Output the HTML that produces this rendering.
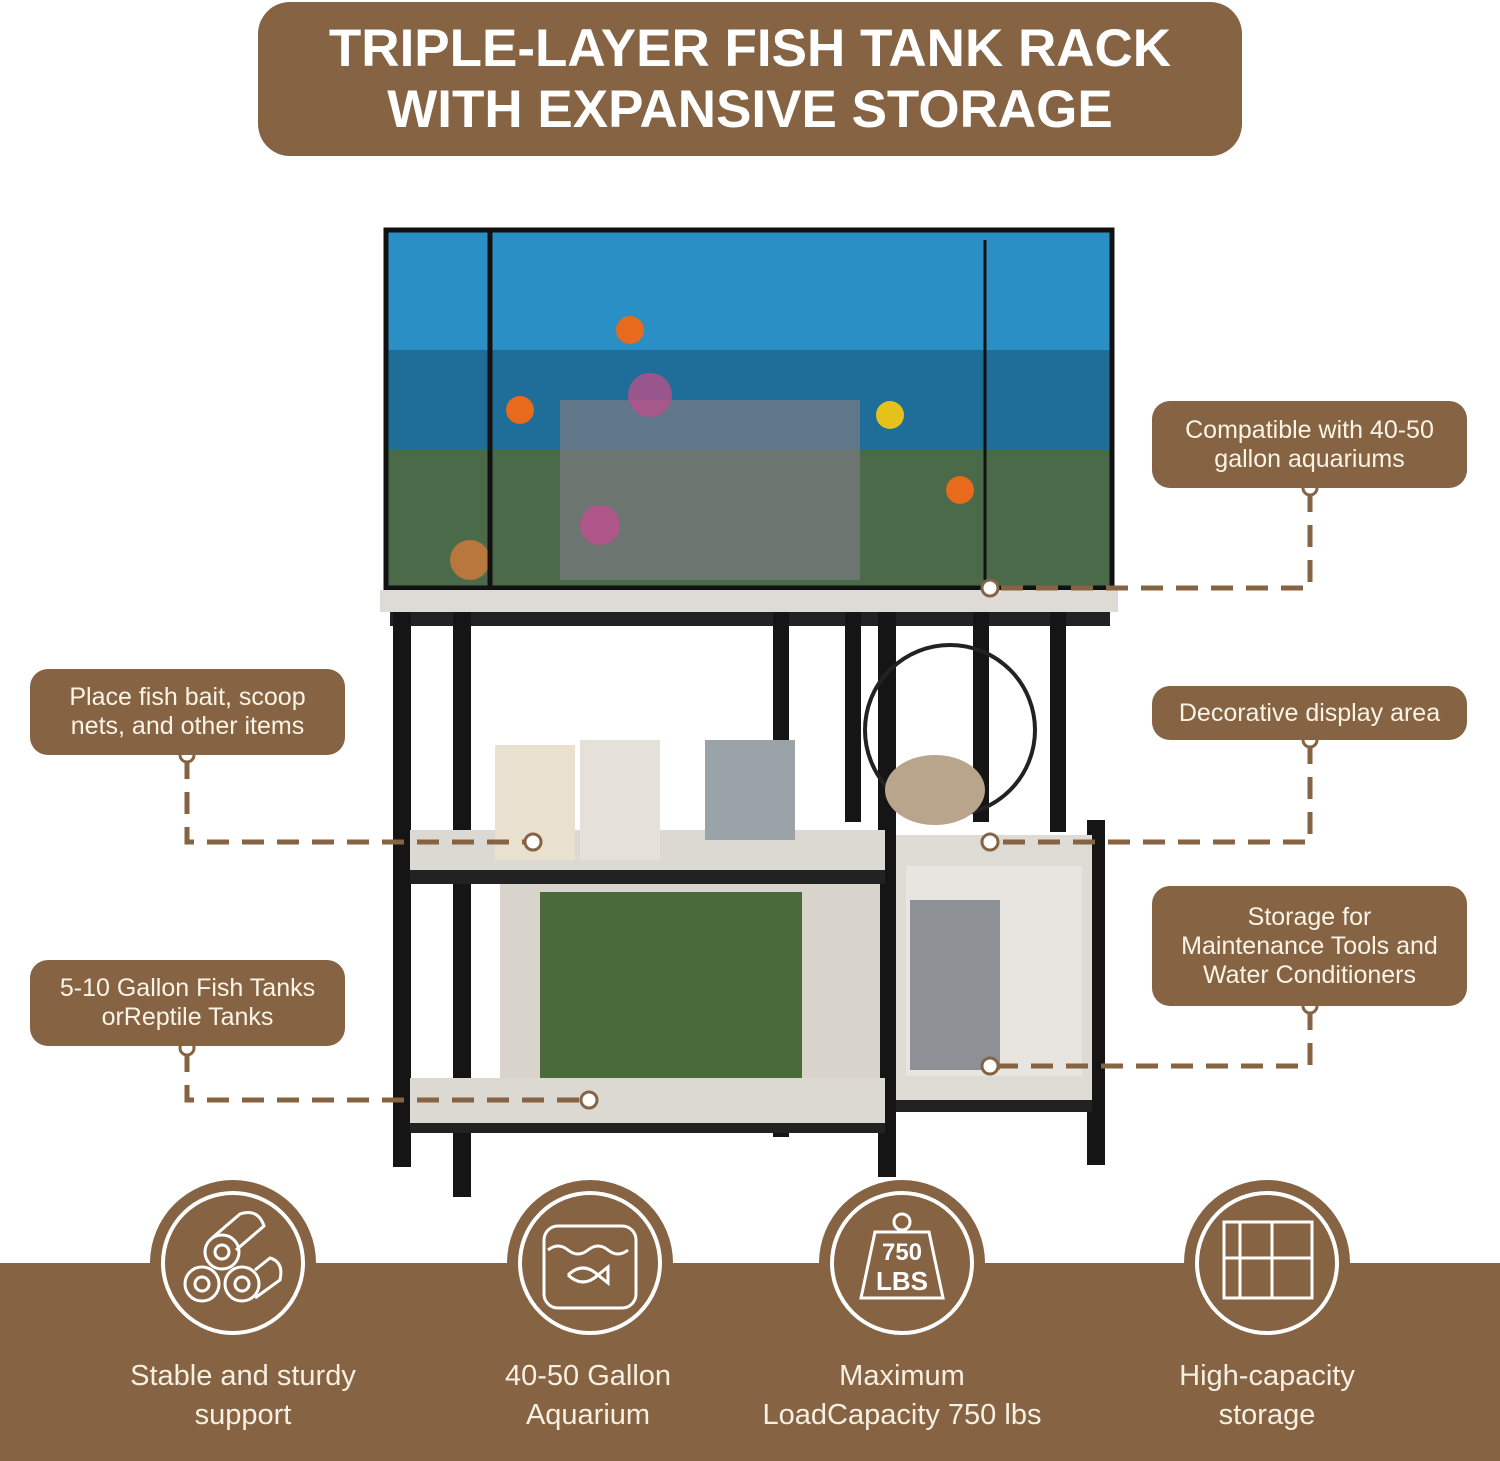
<!DOCTYPE html>
<html><head><style>
body{margin:0;width:1500px;height:1461px;position:relative;background:#fff;overflow:hidden;font-family:"Liberation Sans",sans-serif}
.b{position:absolute;background:#856343;color:#fbf4e6;border-radius:18px;text-align:center;font-size:25px;line-height:29px;display:flex;align-items:center;justify-content:center}
.t{position:absolute;color:#f7efe1;font-size:29px;line-height:39px;text-align:center;width:360px}
</style></head><body>
<div class="b" style="left:258px;top:2px;width:984px;height:154px;border-radius:32px;font-size:53px;line-height:61px;font-weight:bold;color:#fff">TRIPLE-LAYER FISH TANK RACK<br>WITH EXPANSIVE STORAGE</div>
<div style="position:absolute;left:0;top:1263px;width:1500px;height:198px;background:#856343"></div>
<svg width="1500" height="1461" style="position:absolute;left:0;top:0">
<rect x="386" y="230" width="726" height="358" fill="#1f6e9a"/>
<rect x="386" y="230" width="726" height="120" fill="#2a8fc4"/>
<rect x="386" y="450" width="726" height="138" fill="#4a6a4a"/>
<rect x="560" y="400" width="300" height="180" fill="#7a7a80" opacity=".7"/>
<circle cx="520" cy="410" r="14" fill="#e86a1c"/><circle cx="630" cy="330" r="14" fill="#e86a1c"/><circle cx="960" cy="490" r="14" fill="#e86a1c"/><circle cx="890" cy="415" r="14" fill="#e5c21a"/>
<circle cx="650" cy="395" r="22" fill="#b7508a" opacity=".8"/><circle cx="600" cy="525" r="20" fill="#c0508e" opacity=".8"/><circle cx="470" cy="560" r="20" fill="#d57a3a" opacity=".8"/>
<rect x="386" y="230" width="726" height="358" fill="none" stroke="#111" stroke-width="5"/>
<line x1="490" y1="230" x2="490" y2="588" stroke="#111" stroke-width="5"/>
<line x1="985" y1="240" x2="985" y2="580" stroke="#111" stroke-width="3"/>
<rect x="380" y="590" width="738" height="22" fill="#dedbd6"/>
<rect x="390" y="612" width="720" height="14" fill="#222"/>
<g fill="#151515">
<rect x="393" y="612" width="18" height="555"/>
<rect x="453" y="612" width="18" height="585"/>
<rect x="773" y="612" width="16" height="525"/>
<rect x="845" y="612" width="16" height="210"/>
<rect x="878" y="612" width="18" height="565"/>
<rect x="973" y="612" width="16" height="210"/>
<rect x="1050" y="612" width="16" height="220"/>
<rect x="1087" y="820" width="18" height="345"/>
</g>
<rect x="410" y="830" width="475" height="40" fill="#dcd8d2"/>
<rect x="410" y="870" width="475" height="14" fill="#222"/>
<rect x="500" y="884" width="380" height="195" fill="#d9d4cb"/>
<rect x="540" y="892" width="262" height="190" fill="#4b6a3c"/>
<rect x="410" y="1078" width="475" height="45" fill="#dcd8d2"/>
<rect x="410" y="1123" width="475" height="10" fill="#222"/>
<rect x="896" y="835" width="196" height="265" fill="#dedad4"/>
<rect x="906" y="866" width="176" height="210" fill="#e8e5e0"/>
<rect x="910" y="900" width="90" height="170" fill="#8d9095"/>
<rect x="896" y="1100" width="196" height="12" fill="#222"/>
<rect x="495" y="745" width="80" height="115" fill="#e9e0d0"/>
<rect x="580" y="740" width="80" height="120" fill="#e6e1d8"/>
<rect x="705" y="740" width="90" height="100" fill="#9aa3a8"/>
<circle cx="950" cy="730" r="85" fill="none" stroke="#222" stroke-width="4"/>
<ellipse cx="935" cy="790" rx="50" ry="35" fill="#b9a58c"/>
<g stroke="#856343" stroke-width="5" fill="none" stroke-dasharray="22 13">
<path d="M1310 490 V588 H995"/>
<path d="M1310 742 V842 H995"/>
<path d="M1310 1008 V1066 H995"/>
<path d="M187 757 V842 H528"/>
<path d="M187 1050 V1100 H584"/>
</g>
<g fill="#fff" stroke="#856343" stroke-width="3">
<circle cx="1310" cy="488" r="7"/><circle cx="990" cy="588" r="8"/>
<circle cx="1310" cy="740" r="7"/><circle cx="990" cy="842" r="8"/>
<circle cx="1310" cy="1006" r="7"/><circle cx="990" cy="1066" r="8"/>
<circle cx="187" cy="755" r="7"/><circle cx="533" cy="842" r="8"/>
<circle cx="187" cy="1048" r="7"/><circle cx="589" cy="1100" r="8"/>
</g>
<g>
<circle cx="233" cy="1263" r="83" fill="#856343"/><circle cx="233" cy="1263" r="70" fill="none" stroke="#fff" stroke-width="4"/>
<circle cx="590" cy="1263" r="83" fill="#856343"/><circle cx="590" cy="1263" r="70" fill="none" stroke="#fff" stroke-width="4"/>
<circle cx="902" cy="1263" r="83" fill="#856343"/><circle cx="902" cy="1263" r="70" fill="none" stroke="#fff" stroke-width="4"/>
<circle cx="1267" cy="1263" r="83" fill="#856343"/><circle cx="1267" cy="1263" r="70" fill="none" stroke="#fff" stroke-width="4"/>
</g>
<g fill="none" stroke="#fff" stroke-width="3">
<circle cx="202" cy="1284" r="17"/><circle cx="202" cy="1284" r="7"/>
<circle cx="242" cy="1284" r="17"/><circle cx="242" cy="1284" r="7"/>
<circle cx="222" cy="1252" r="17"/><circle cx="222" cy="1252" r="7"/>
<path d="M212 1238 L240 1214 Q258 1208 264 1226 L236 1250"/>
<path d="M255 1270 L270 1258 Q284 1262 280 1280 L255 1298"/>
<rect x="544" y="1226" width="92" height="82" rx="14"/>
<path d="M548 1250 q10 -8 20 0 t20 0 t20 0 t20 0"/>
<path d="M568 1275 q15 -14 30 0 q-15 14 -30 0 M598 1275 l10 -8 v16 z"/>
<path d="M875 1232 h54 l14 66 h-82 z"/>
<circle cx="902" cy="1222" r="8"/>
<rect x="1224" y="1222" width="88" height="76"/>
<path d="M1240 1222 v76 M1224 1258 h88 M1272 1222 v76"/>
</g>
<text x="902" y="1260" text-anchor="middle" fill="#fff" font-size="24" font-weight="bold" font-family="Liberation Sans">750</text>
<text x="902" y="1290" text-anchor="middle" fill="#fff" font-size="26" font-weight="bold" font-family="Liberation Sans">LBS</text>
</svg>
<div class="b" style="left:1152px;top:401px;width:315px;height:87px">Compatible with 40-50<br>gallon aquariums</div>
<div class="b" style="left:1152px;top:686px;width:315px;height:54px">Decorative display area</div>
<div class="b" style="left:1152px;top:886px;width:315px;height:120px">Storage for<br>Maintenance Tools and<br>Water Conditioners</div>
<div class="b" style="left:30px;top:669px;width:315px;height:86px">Place fish bait, scoop<br>nets, and other items</div>
<div class="b" style="left:30px;top:960px;width:315px;height:86px">5-10 Gallon Fish Tanks<br>orReptile Tanks</div>
<div class="t" style="left:63px;top:1357px">Stable and sturdy<br>support</div>
<div class="t" style="left:408px;top:1357px">40-50 Gallon<br>Aquarium</div>
<div class="t" style="left:722px;top:1357px">Maximum<br>LoadCapacity 750 lbs</div>
<div class="t" style="left:1087px;top:1357px">High-capacity<br>storage</div>
</body></html>
